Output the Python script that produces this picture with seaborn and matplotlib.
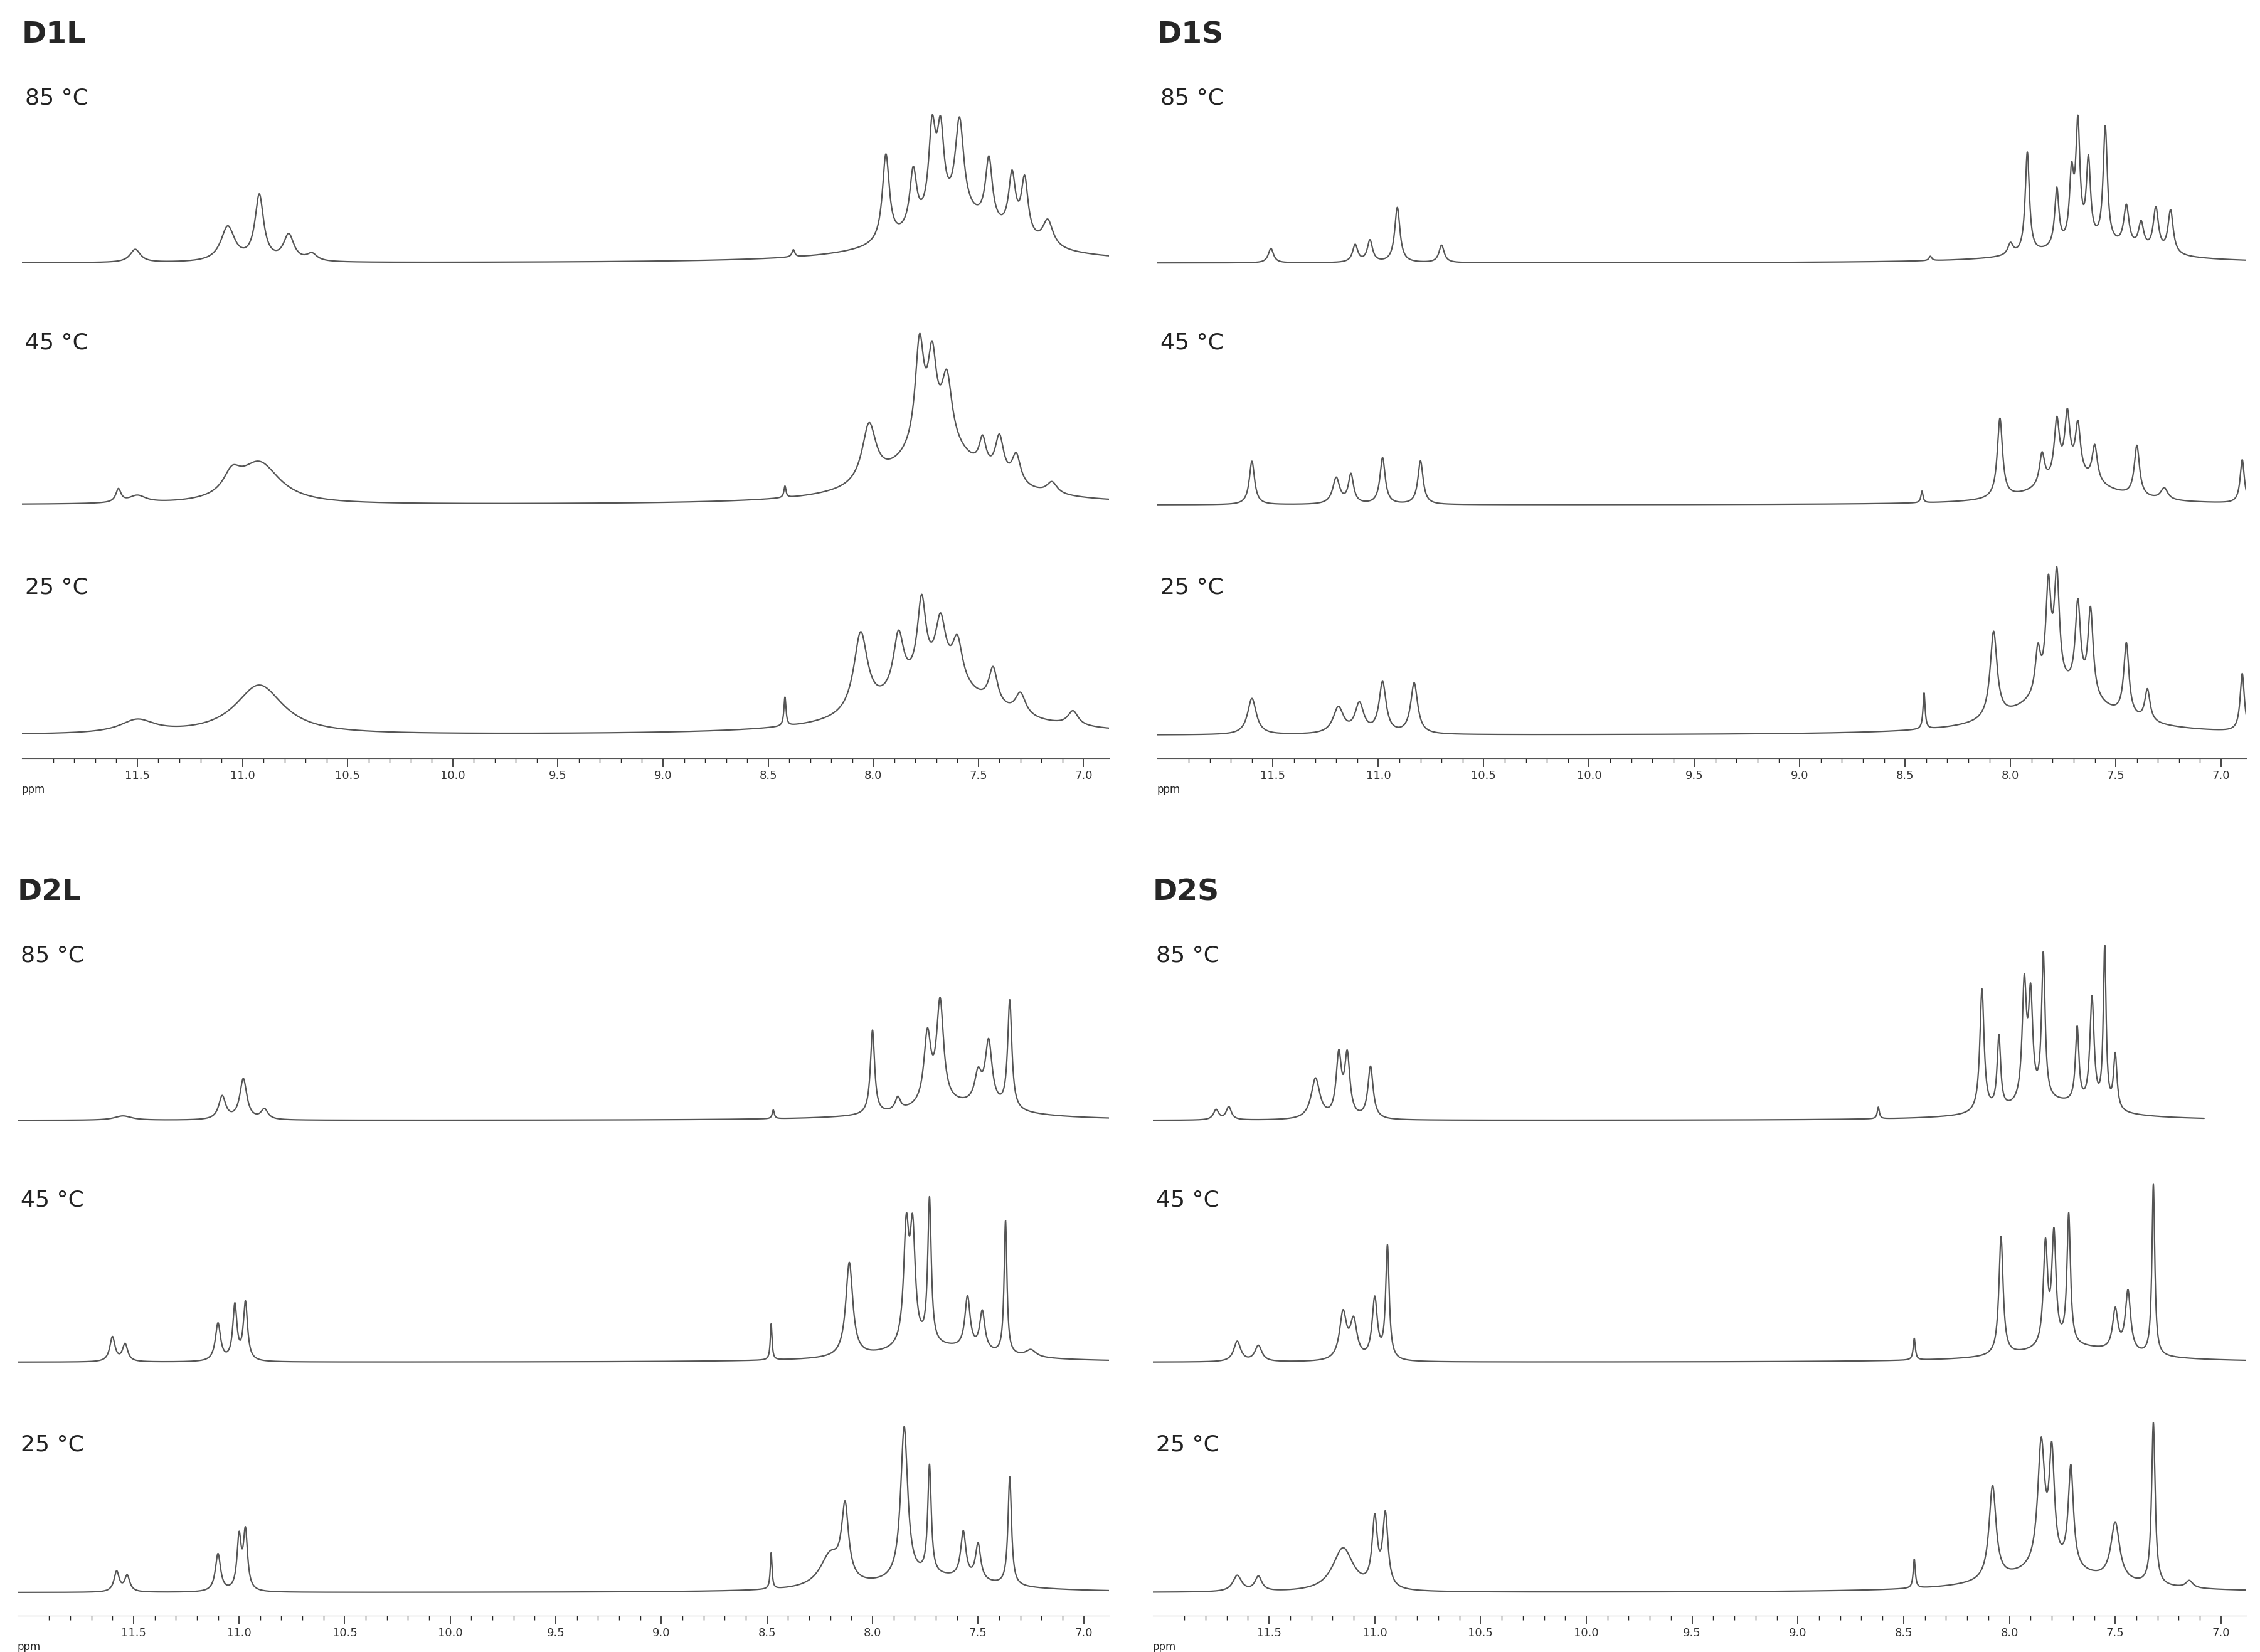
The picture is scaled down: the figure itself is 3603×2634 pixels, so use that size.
import numpy as np
import pandas as pd
import seaborn as sns
import matplotlib.pyplot as plt

# peak tables: (ppm, height, half-width); heights in plot units
d1l_85 = [(11.51, 9, 0.03), (11.07, 24, 0.04), (10.92, 45, 0.025), (10.78, 18, 0.03), (10.67, 5, 0.03),
          (8.38, 5, 0.008), (7.94, 60, 0.02), (7.81, 40, 0.02), (7.72, 60, 0.02), (7.68, 55, 0.02),
          (7.59, 65, 0.025), (7.45, 45, 0.02), (7.34, 40, 0.02), (7.28, 40, 0.02), (7.17, 18, 0.03),
          (7.6, 30, 0.3)]
d1l_45 = [(11.59, 9, 0.015), (11.5, 5, 0.05), (11.05, 14, 0.05), (10.92, 28, 0.12), (8.42, 8, 0.006),
          (8.02, 40, 0.04), (7.78, 70, 0.025), (7.72, 55, 0.025), (7.65, 45, 0.03), (7.48, 20, 0.02),
          (7.4, 28, 0.025), (7.32, 20, 0.025), (7.15, 8, 0.03), (7.7, 40, 0.25)]
d1l_25 = [(11.5, 9, 0.1), (10.92, 34, 0.14), (8.42, 20, 0.006), (8.06, 55, 0.04), (7.88, 40, 0.03),
          (7.77, 55, 0.025), (7.68, 40, 0.03), (7.6, 30, 0.03), (7.43, 25, 0.025), (7.3, 15, 0.03),
          (7.05, 10, 0.03), (7.7, 35, 0.3)]
d1s_85 = [(11.51, 10, 0.015), (11.11, 12, 0.015), (11.04, 15, 0.015), (10.91, 38, 0.015), (10.7, 12, 0.015),
          (8.38, 3, 0.008), (8.0, 8, 0.015), (7.92, 70, 0.012), (7.78, 40, 0.012), (7.71, 45, 0.012),
          (7.68, 80, 0.012), (7.63, 55, 0.012), (7.55, 80, 0.012), (7.45, 28, 0.015), (7.38, 18, 0.015),
          (7.31, 30, 0.015), (7.24, 30, 0.015), (7.6, 12, 0.3)]
d1s_45 = [(11.6, 30, 0.015), (11.2, 18, 0.02), (11.13, 20, 0.015), (10.98, 32, 0.015), (10.8, 30, 0.015),
          (8.42, 8, 0.006), (8.05, 55, 0.015), (7.85, 22, 0.015), (7.78, 40, 0.015), (7.73, 42, 0.015),
          (7.68, 35, 0.015), (7.6, 25, 0.015), (7.4, 35, 0.015), (7.27, 8, 0.02), (6.9, 30, 0.012),
          (7.7, 18, 0.2)]
d1s_25 = [(11.6, 25, 0.025), (11.19, 18, 0.03), (11.09, 20, 0.025), (10.98, 35, 0.02), (10.83, 35, 0.02),
          (8.41, 25, 0.006), (8.08, 60, 0.02), (7.87, 30, 0.015), (7.82, 70, 0.015), (7.78, 75, 0.015),
          (7.68, 60, 0.015), (7.62, 60, 0.015), (7.45, 50, 0.015), (7.35, 22, 0.015), (6.9, 40, 0.012),
          (7.75, 30, 0.25)]
d2l_85 = [(11.55, 3, 0.05), (11.08, 16, 0.02), (10.98, 28, 0.02), (10.88, 7, 0.02), (8.47, 6, 0.006),
          (8.0, 58, 0.012), (7.88, 9, 0.015), (7.74, 48, 0.02), (7.68, 70, 0.02), (7.5, 20, 0.02),
          (7.45, 44, 0.02), (7.35, 75, 0.012), (7.6, 10, 0.3)]
d2l_45 = [(11.6, 17, 0.015), (11.54, 12, 0.015), (11.1, 26, 0.015), (11.02, 38, 0.012), (10.97, 40, 0.012),
          (8.48, 25, 0.005), (8.11, 65, 0.02), (7.84, 78, 0.015), (7.81, 76, 0.015), (7.73, 100, 0.01),
          (7.55, 36, 0.015), (7.48, 27, 0.015), (7.37, 92, 0.008), (7.25, 5, 0.03), (7.7, 10, 0.3)]
d2l_25 = [(11.58, 14, 0.015), (11.53, 11, 0.015), (11.1, 26, 0.015), (11.0, 36, 0.012), (10.97, 40, 0.012),
          (8.48, 25, 0.005), (8.2, 22, 0.06), (8.13, 50, 0.02), (7.85, 105, 0.02), (7.73, 75, 0.01),
          (7.57, 32, 0.015), (7.5, 25, 0.015), (7.35, 75, 0.01), (7.7, 10, 0.3)]
d2s_85 = [(11.75, 7, 0.015), (11.69, 9, 0.015), (11.28, 28, 0.025), (11.17, 42, 0.015), (11.13, 42, 0.015),
          (11.02, 36, 0.015), (8.62, 8, 0.006), (8.13, 85, 0.012), (8.05, 50, 0.01), (7.93, 80, 0.012),
          (7.9, 70, 0.012), (7.84, 100, 0.01), (7.68, 52, 0.01), (7.61, 75, 0.012), (7.55, 110, 0.008),
          (7.5, 38, 0.01), (7.8, 12, 0.25)]
d2s_45 = [(11.65, 14, 0.02), (11.55, 11, 0.02), (11.15, 32, 0.02), (11.1, 26, 0.02), (11.0, 42, 0.015),
          (10.94, 78, 0.01), (8.45, 15, 0.006), (8.04, 82, 0.012), (7.83, 70, 0.012), (7.79, 76, 0.012),
          (7.72, 90, 0.01), (7.5, 28, 0.015), (7.44, 42, 0.015), (7.32, 118, 0.008), (7.7, 10, 0.3)]
d2s_25 = [(11.65, 11, 0.025), (11.55, 10, 0.02), (11.15, 30, 0.06), (11.0, 46, 0.015), (10.95, 50, 0.015),
          (8.45, 20, 0.006), (8.08, 65, 0.02), (7.85, 85, 0.02), (7.8, 75, 0.015), (7.71, 70, 0.015),
          (7.5, 40, 0.025), (7.32, 112, 0.01), (7.15, 5, 0.02), (7.8, 15, 0.3)]

panels = [("D1L", [d1l_85, d1l_45, d1l_25]), ("D1S", [d1s_85, d1s_45, d1s_25]),
          ("D2L", [d2l_85, d2l_45, d2l_25]), ("D2S", [d2s_85, d2s_45, d2s_25])]
temps = ["85 °C", "45 °C", "25 °C"]
offsets = [342, 175, 16]
ticks = [11.5, 11.0, 10.5, 10.0, 9.5, 9.0, 8.5, 8.0, 7.5, 7.0]

ppm = np.linspace(12.1, 6.85, 6000)


def spectrum(peaks):
    y = np.zeros_like(ppm)
    for c, h, w in peaks:
        y += h * w ** 2 / ((ppm - c) ** 2 + w ** 2)
    return y


sns.set_style("white")
fig = plt.figure(figsize=(36.03, 26.34), dpi=100)
boxes = [[0.0096, 0.541, 0.481, 0.419], [0.512, 0.541, 0.482, 0.419],
         [0.0077, 0.022, 0.483, 0.419], [0.510, 0.022, 0.484, 0.419]]

for (name, specs), box in zip(panels, boxes):
    ax = fig.add_axes(box)
    rows = []
    for t, pk, off in zip(temps, specs, offsets):
        lim = (7.08, 12.08) if (name == "D2S" and t == "85 °C") else (6.85, 12.1)
        m = (ppm >= lim[0]) & (ppm <= lim[1])
        rows.append(pd.DataFrame({"ppm": ppm[m], "y": spectrum(pk)[m] + off, "temp": t}))
    df = pd.concat(rows)
    for t in temps:
        sub = df[df.temp == t]
        sns.lineplot(data=sub, x="ppm", y="y", ax=ax, color="#555555", lw=1.6,
                     sort=False, estimator=None)
    ax.set_xlim(12.05, 6.88)
    ax.set_ylim(0, 478)
    for t, yy in zip(temps, [456, 287, 118]):
        ax.text(0.003, yy, t, transform=ax.get_yaxis_transform(), fontsize=26,
                va="center", ha="left", color="#222222")
    ax.text(0.0, 1.045, name, transform=ax.transAxes, fontsize=34, fontweight="bold",
            va="center", ha="left")
    ax.set_xticks(ticks)
    ax.set_xticklabels([f"{v:.1f}" for v in ticks], fontsize=13, color="#333333")
    ax.set_xticks(np.arange(7.0, 12.0, 0.1), minor=True)
    ax.tick_params(axis="x", which="major", length=10, width=1.2, direction="out", bottom=True)
    ax.tick_params(axis="x", which="minor", length=5, width=1, direction="out", bottom=True)
    ax.set_yticks([])
    ax.set_xlabel("")
    ax.set_ylabel("")
    ax.text(0.0, -0.045, "ppm", transform=ax.transAxes, fontsize=12, ha="left", va="center")
    for s in ["top", "left", "right"]:
        ax.spines[s].set_visible(False)
    ax.spines["bottom"].set_color("#555555")

fig.savefig("out.png", dpi=100)
